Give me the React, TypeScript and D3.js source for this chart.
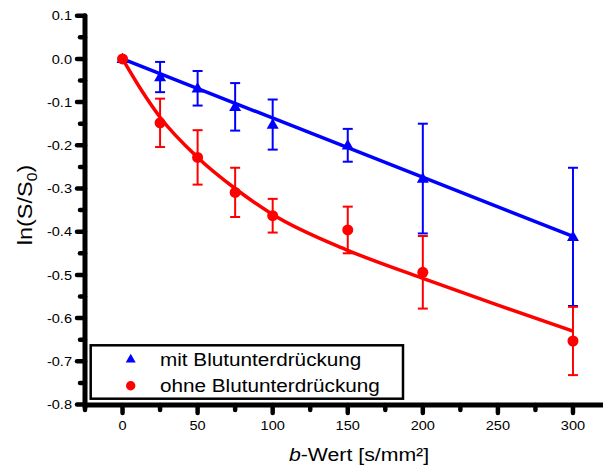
import React from "react";
import * as d3 from "d3";

const bValues = [0, 25, 50, 75, 100, 150, 200, 300];
const mitValues = [0, -0.042, -0.068, -0.111, -0.152, -0.2, -0.277, -0.412];
const mitErrors = [0, 0.035, 0.04, 0.055, 0.058, 0.038, 0.127, 0.16];
const ohneValues = [0, -0.148, -0.228, -0.309, -0.363, -0.396, -0.494, -0.653];
const ohneErrors = [0, 0.056, 0.063, 0.057, 0.039, 0.054, 0.084, 0.079];

const mitFitB = [0, 300];
const mitFitValues = [0, -0.411];
const ohneFitB = [0, 12.5, 25, 50, 75, 100, 150, 200, 250, 300];
const ohneFitValues = [0, -0.072, -0.135, -0.228, -0.3, -0.36, -0.443, -0.508, -0.57, -0.63];

const yMajorTicks = [-8, -7, -6, -5, -4, -3, -2, -1, 0, 1];
const xMajorTicks = [0, 50, 100, 150, 200, 250, 300];
const xMinorTicks = [-25, 25, 75, 125, 175, 225, 275];

const seriesNames = ["mit Blutunterdrückung", "ohne Blutunterdrückung"];
const BLUE = "#0000ff";
const RED = "#ff0000";
const FONT = "Arial, 'Liberation Sans', sans-serif";
const SX = 1.12;

export default function App() {
  const W = 603, H = 470;
  const x = d3.scaleLinear().domain([-25, 320]).range([85, 603]);
  const y = d3.scaleLinear().domain([-0.8, 0.1]).range([404.5, 15.7]);

  const line = d3
    .line<[number, number]>()
    .x((d) => x(d[0]))
    .y((d) => y(d[1]));
  const curve = d3
    .line<[number, number]>()
    .x((d) => x(d[0]))
    .y((d) => y(d[1]))
    .curve(d3.curveMonotoneX);

  const mitFit = mitFitB.map((b, i) => [b, mitFitValues[i]] as [number, number]);
  const ohneFit = ohneFitB.map((b, i) => [b, ohneFitValues[i]] as [number, number]);

  const triPath = (cx: number, cy: number, s: number) => {
    const h = s * 0.87;
    return `M${cx},${cy - h * 0.6}L${cx + s / 2},${cy + h * 0.4}L${cx - s / 2},${cy + h * 0.4}Z`;
  };

  const errBars = (vals: number[], errs: number[], color: string) =>
    bValues.map((b, i) =>
      errs[i] > 0 ? (
        <g key={i} stroke={color} strokeWidth={2} fill="none">
          <line x1={x(b)} x2={x(b)} y1={y(vals[i] + errs[i])} y2={y(vals[i] - errs[i])} />
          <line x1={x(b) - 5} x2={x(b) + 5} y1={y(vals[i] + errs[i])} y2={y(vals[i] + errs[i])} />
          <line x1={x(b) - 5} x2={x(b) + 5} y1={y(vals[i] - errs[i])} y2={y(vals[i] - errs[i])} />
        </g>
      ) : null
    );

  const yMinor: number[] = [];
  for (let i = -8; i < 1; i++) yMinor.push((i + 0.5) / 10);

  return (
    <svg width={W} height={H} style={{ position: "absolute", left: 0, top: 0 }}>
      <rect width={W} height={H} fill="#fff" />
      {/* blue series */}
      {errBars(mitValues, mitErrors, BLUE)}
      <path d={line(mitFit) || ""} stroke={BLUE} strokeWidth={3.5} fill="none" />
      {bValues.map((b, i) => (
        <path key={i} d={triPath(x(b), y(mitValues[i]), 12)} fill={BLUE} />
      ))}
      {/* red series */}
      {errBars(ohneValues, ohneErrors, RED)}
      <path d={curve(ohneFit) || ""} stroke={RED} strokeWidth={3.5} fill="none" />
      {bValues.map((b, i) => (
        <circle key={i} cx={x(b)} cy={y(ohneValues[i])} r={5.5} fill={RED} />
      ))}

      {/* axes */}
      <g stroke="#000" strokeLinecap="round" strokeWidth={4.5}>
        {yMajorTicks.map((t) => (
          <line key={"ym" + t} x1={77} x2={85} y1={y(t / 10)} y2={y(t / 10)} />
        ))}
        {yMinor.map((t) => (
          <line key={"yn" + t} x1={80} x2={85} y1={y(t)} y2={y(t)} />
        ))}
        {xMajorTicks.map((t) => (
          <line key={"xm" + t} x1={x(t)} x2={x(t)} y1={405} y2={413} />
        ))}
        {xMinorTicks.map((t) => (
          <line key={"xn" + t} x1={x(t)} x2={x(t)} y1={405} y2={410} />
        ))}
      </g>
      <line x1={85} x2={85} y1={y(0.1)} y2={407} stroke="#000" strokeWidth={5} strokeLinecap="round" />
      <line x1={83} x2={603} y1={405} y2={405} stroke="#000" strokeWidth={5} />

      {/* tick labels */}
      <g fontFamily={FONT} fontSize={13} fill="#000">
        {yMajorTicks.map((t) => (
          <text key={t} textAnchor="end" transform={`translate(72,${y(t / 10) + 4.7}) scale(${SX},1)`}>
            {(t / 10).toFixed(1)}
          </text>
        ))}
        {xMajorTicks.map((t) => (
          <text key={t} textAnchor="middle" transform={`translate(${x(t)},430) scale(${SX},1)`}>
            {t}
          </text>
        ))}
      </g>

      {/* axis titles */}
      <text fontFamily={FONT} fontSize={19} textAnchor="middle" transform={`translate(359,461) scale(${SX},1)`}>
        <tspan fontStyle="italic">b</tspan>-Wert [s/mm²]
      </text>
      <text fontFamily={FONT} fontSize={21} textAnchor="middle" transform={`translate(32,205) rotate(-90) scale(${SX},1)`}>
        ln(S/S<tspan fontSize={14} dy={5}>0</tspan>
        <tspan dy={-5}>)</tspan>
      </text>

      {/* legend */}
      <rect x={90.7} y={345.3} width={312.3} height={53.4} fill="#fff" stroke="#000" strokeWidth={2.5} />
      <path d={triPath(130.7, 359, 10)} fill={BLUE} />
      <circle cx={130.7} cy={385.7} r={4.7} fill={RED} />
      <g fontFamily={FONT} fontSize={18.5} fill="#000">
        <text transform={`translate(160,365.6) scale(${SX},1)`}>{seriesNames[0]}</text>
        <text transform={`translate(160,392.3) scale(${SX},1)`}>{seriesNames[1]}</text>
      </g>
    </svg>
  );
}
